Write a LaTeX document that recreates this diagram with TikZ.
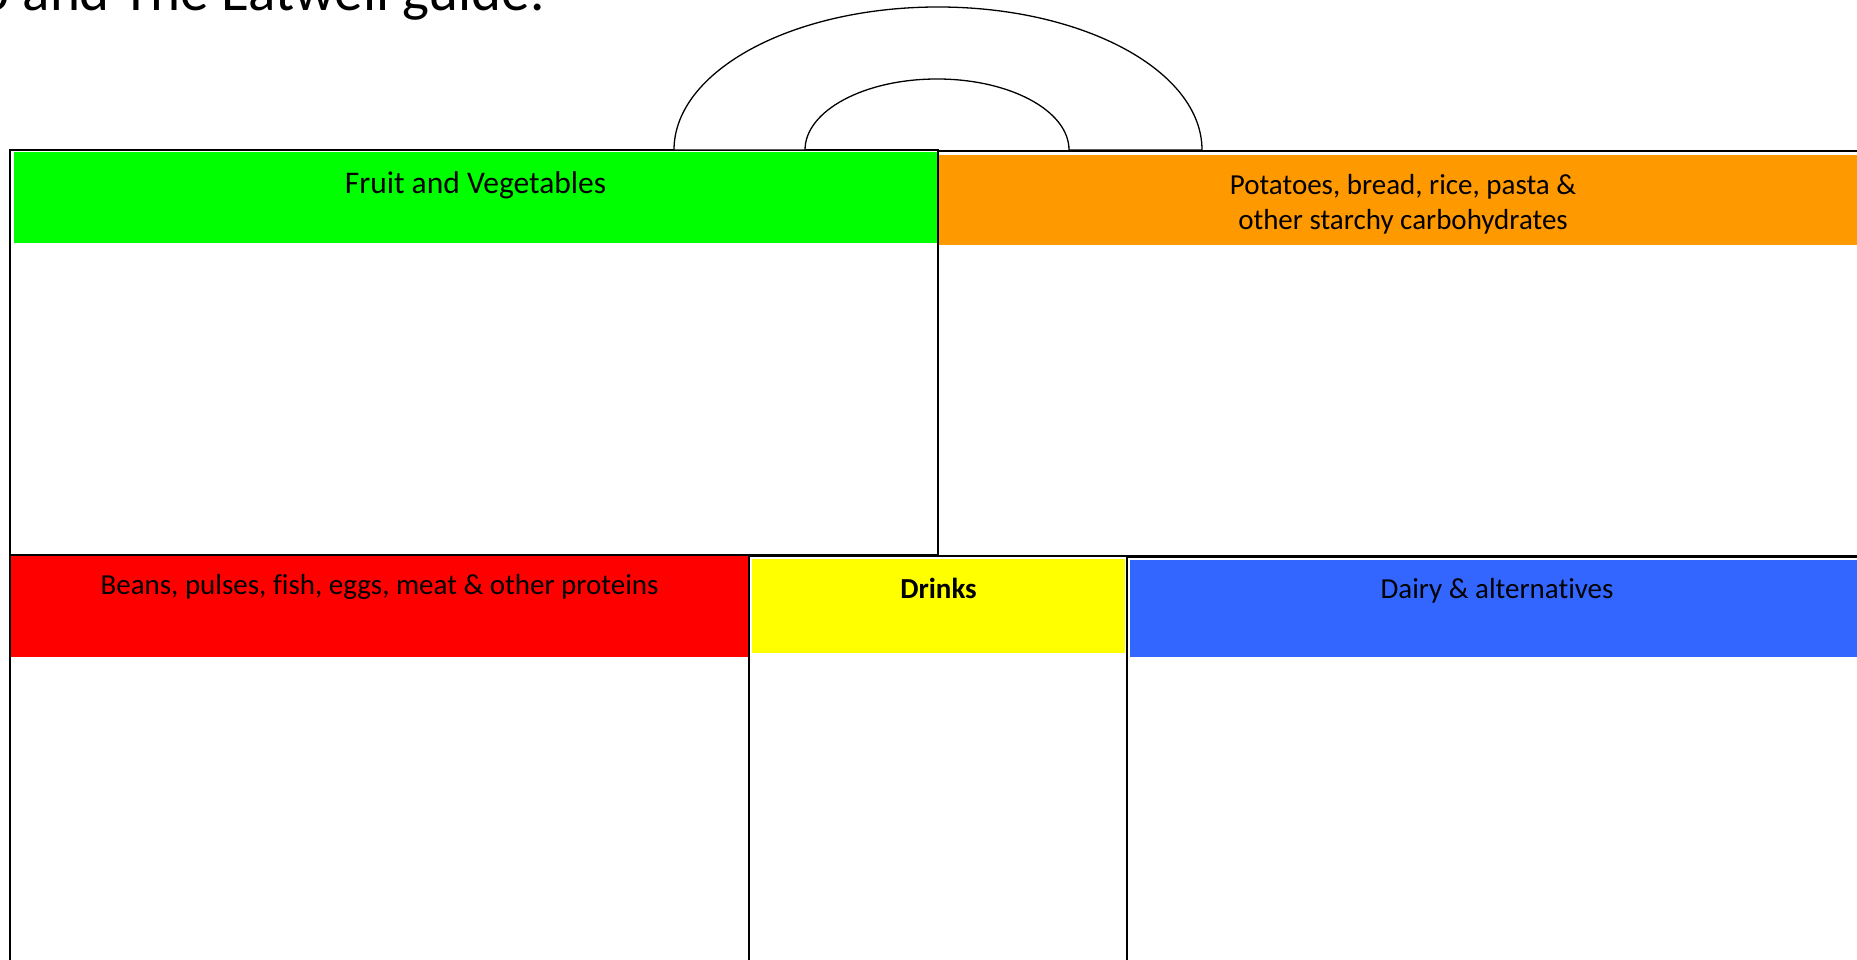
\documentclass[tikz,border=0pt]{standalone}
\usepackage{fontspec}
\setmainfont{Carlito}[Ligatures={NoCommon}]
\definecolor{fvgreen}{HTML}{00FF00}
\definecolor{carbo}{HTML}{FF9900}
\definecolor{prot}{HTML}{FF0000}
\definecolor{drink}{HTML}{FFFF00}
\definecolor{dairy}{HTML}{3366FF}
\begin{document}
\begin{tikzpicture}[x=1pt,y=1pt,
  boxline/.style={draw=black,line width=1.5pt},
  label/.style={anchor=base,inner sep=0pt,font=\fontsize{29}{35}\selectfont,align=center}]
\useasboundingbox (0,0) rectangle (1857,959);
\begin{scope}
\clip (0,0) rectangle (1857,959);
% title (cut off at top)
\node[anchor=base east,inner sep=0pt,font=\fontsize{57}{68}\selectfont] (title) at (545,948) {o and The Eatwell guide.};
% colour bands
\fill[fvgreen] (14,807) rectangle (937,716);
\fill[carbo] (939,804) rectangle (1875,714);
\fill[prot] (10,403) rectangle (749,302);
\fill[drink] (752,400) rectangle (1125,306);
\fill[dairy] (1130,399) rectangle (1875,302);
% boxes
\draw[boxline] (10,809) rectangle (938,404);
\draw[boxline] (938,808) rectangle (1875,403);
\draw[boxline] (10,404) rectangle (749,-20);
\draw[boxline] (749,403) rectangle (1127,-20);
\draw[boxline] (1127,402) rectangle (1875,-20);
% handle
\draw[line width=1.3pt,fill=white] (674,809) arc[start angle=180,end angle=0,x radius=264,y radius=143]
  -- (1069,809) arc[start angle=0,end angle=180,x radius=132,y radius=71] -- cycle;
% labels
\node[label,font=\fontsize{31.5}{38}\selectfont] (fv) at (475.5,765) {Fruit and Vegetables};
\node[label] (pot) at (1403,729) {Potatoes, bread, rice, pasta \&\\other starchy carbohydrates};
\node[label] (beans) at (379.5,364) {Beans, pulses, fish, eggs, meat \& other proteins};
\node[label,font=\fontsize{29}{35}\selectfont\bfseries] (drinks) at (938.5,360) {Drinks};
\node[label] (dairyt) at (1497,360) {Dairy \& alternatives};
\end{scope}
\end{tikzpicture}
\end{document}
